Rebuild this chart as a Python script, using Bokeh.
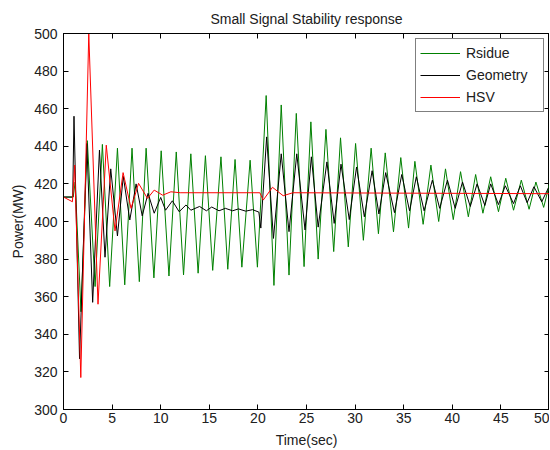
from bokeh.plotting import figure
from bokeh.models import Range1d, LinearAxis, FixedTicker, Legend, LegendItem
from bokeh.embed import file_html
from bokeh.resources import INLINE

# ---- data (turning points of each trace) ----
rsidue_t = [0, 1.0, 1.2, 1.8, 2.45, 3.25, 4.0, 4.75, 5.55, 6.3, 7.05, 7.8, 8.5, 9.3,
            10.05, 10.85, 11.6, 12.35, 13.1, 13.85, 14.6, 15.35, 16.2, 16.9, 17.65,
            18.35, 19.2, 19.95, 20.85, 21.65, 22.4, 23.2, 23.95, 24.75, 25.45, 26.2,
            27.0, 27.8, 28.5, 29.3, 30.05, 30.85, 31.65, 32.4, 33.1, 33.95, 34.7,
            35.5, 36.15, 37.0, 37.8, 38.6, 39.3, 40.1, 40.85, 41.65, 42.4, 43.15,
            43.95, 44.75, 45.5, 46.3, 47.1, 47.9, 48.6, 49.4, 50.0]
rsidue_v = [413, 413, 421, 352, 443, 365.4, 441, 365.4, 439, 366.3, 439, 368, 439, 370,
            437.6, 371, 437, 371.6, 436, 372.5, 435, 374, 434.4, 374.6, 433,
            375.7, 432.6, 375.7, 467, 366, 462, 371.5, 457.5, 376, 453, 380,
            449, 384, 444.5, 386.5, 441.5, 390, 439, 393.5, 436.5, 394.5, 434,
            396.5, 432, 398.5, 430, 400, 428, 401, 426.5, 402.5, 425, 404.4,
            423.8, 405.2, 423, 406, 422, 406.5, 421, 407.5, 420]

geometry_t = [0, 0.95, 1.08, 1.65, 2.4, 3.0, 3.7, 4.27, 4.86, 5.55, 6.15, 6.82, 7.47,
              8.1, 8.7, 9.33, 10.0, 10.5, 11.2, 11.9, 12.6, 13.1, 14.0, 14.7, 15.25,
              16.0, 16.65, 17.4, 18.0, 18.75, 19.45, 20.1, 20.3, 20.9, 21.6, 22.4,
              23.2, 24.0, 24.85, 25.5, 26.2, 27.1, 27.85, 28.55, 29.4, 30.15, 30.95,
              31.75, 32.45, 33.15, 34.05, 34.8, 35.6, 36.3, 37.1, 37.95, 38.7, 39.5,
              40.3, 41.05, 41.85, 42.55, 43.35, 43.95, 44.75, 45.45, 46.3, 47.0,
              47.7, 48.4, 49.2, 49.9, 50.0]
geometry_v = [413, 413, 456, 327, 441.5, 357, 438, 381, 428, 392.3, 424, 400.8, 420,
              403, 415, 404.4, 412.8, 406, 411, 405.2, 408.8, 406, 408, 405.7, 407.7,
              405.7, 407, 405.7, 406.7, 405.5, 406.3, 405, 396.5, 445, 391, 436,
              394.6, 436, 395.5, 434.4, 397, 431.7, 399, 430.5, 401, 429, 402.5,
              427, 404, 426, 404.7, 425, 405.7, 423.8, 405.7, 422, 407, 422,
              407, 421, 408, 420, 408.5, 420, 409, 419, 409.5, 419,
              410, 418.5, 410.5, 418, 417]

hsv_t = [0, 0.92, 1.15, 1.78, 2.6, 3.55, 4.4, 5.3, 6.13, 6.95, 7.72, 8.64, 9.33,
         10.2, 11.05, 12.0, 20.2, 20.55, 21.5, 22.6, 23.6, 50.0]
hsv_v = [413, 410.5, 430, 317, 500, 356, 440.6, 395, 426, 407, 420.3, 412.3, 416.7,
         414, 415.8, 415.3, 415.3, 411.4, 418.2, 413.7, 415.3, 414.8]

x_ticks = [0, 5, 10, 15, 20, 25, 30, 35, 40, 45, 50]
y_ticks = [300, 320, 340, 360, 380, 400, 420, 440, 460, 480, 500]

FONT = "Liberation Sans"
TXT = "#202020"

p = figure(width=549, height=450, output_backend="svg", toolbar_location=None,
           x_range=Range1d(x_ticks[0], x_ticks[-1]),
           y_range=Range1d(y_ticks[0], y_ticks[-1]),
           min_border_left=63, min_border_right=0, min_border_top=33,
           min_border_bottom=38)
p.background_fill_color = "white"
p.border_fill_color = "white"
p.outline_line_color = "black"
p.grid.visible = False

p.title.text = "Small Signal Stability response"
p.title.align = "center"
p.title.text_font = FONT
p.title.text_font_size = "14px"
p.title.text_font_style = "normal"
p.title.text_color = TXT
p.title.standoff = 13

for ax, ticks in ((p.xaxis[0], x_ticks), (p.yaxis[0], y_ticks)):
    ax.ticker = FixedTicker(ticks=ticks)
    ax.major_tick_in = 5
    ax.major_tick_out = 0
    ax.minor_tick_line_color = None
    ax.axis_line_color = "black"
    ax.major_tick_line_color = "black"
    ax.major_label_text_font = FONT
    ax.major_label_text_font_size = "14px"
    ax.major_label_text_color = TXT
    ax.axis_label_text_font = FONT
    ax.axis_label_text_font_size = "14px"
    ax.axis_label_text_font_style = "normal"
    ax.axis_label_text_color = TXT

p.xaxis.axis_label = "Time(sec)"
p.xaxis.major_label_standoff = 3
p.xaxis.axis_label_standoff = 6
p.yaxis.axis_label = "Power(MW)"
p.yaxis.major_label_standoff = 6
p.yaxis.axis_label_standoff = 5

for side, ticks in (("right", y_ticks), ("above", x_ticks)):
    ax = LinearAxis(ticker=FixedTicker(ticks=ticks))
    ax.major_tick_in = 5
    ax.major_tick_out = 0
    ax.minor_tick_line_color = None
    ax.major_label_text_font_size = "1px"
    ax.major_label_text_color = None
    ax.major_label_standoff = 0
    ax.axis_line_color = "black"
    p.add_layout(ax, side)

g = p.line(rsidue_t, rsidue_v, line_color="#008000", line_width=1)
k = p.line(geometry_t, geometry_v, line_color="black", line_width=1)
r = p.line(hsv_t, hsv_v, line_color="#ff0000", line_width=1)

legend = Legend(items=[LegendItem(label="Rsidue", renderers=[g]),
                       LegendItem(label="Geometry", renderers=[k]),
                       LegendItem(label="HSV", renderers=[r])],
                location="top_right")
legend.margin = 5
legend.padding = 4
legend.spacing = 2
legend.label_height = 20
legend.glyph_height = 20
legend.glyph_width = 40
legend.label_standoff = 6
legend.label_width = 73
legend.label_text_font = FONT
legend.label_text_font_size = "14px"
legend.label_text_color = TXT
legend.border_line_color = "black"
legend.border_line_width = 1
legend.background_fill_alpha = 1
p.add_layout(legend)

open("out.html", "w").write(file_html(p, INLINE))
